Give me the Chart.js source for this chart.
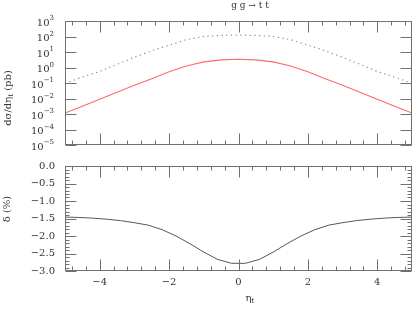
<!DOCTYPE html>
<html>
<head>
<meta charset="utf-8">
<script src="https://cdn.jsdelivr.net/npm/chart.js@4"></script>
<style>
  html, body { margin: 0; padding: 0; background: #fff; }
  #wrap { position: relative; width: 414px; height: 310px; }
  canvas { position: absolute; left: 0; }
  #c1 { top: 0; }
  #c2 { top: 150px; }
</style>
</head>
<body>
<div id="wrap">
  <canvas id="c1" width="414" height="150"></canvas>
  <canvas id="c2" width="414" height="160"></canvas>
</div>
<script>
// top panel: d sigma / d eta_t (pb), log scale
const etaTop = [-5, -4.5, -4, -3.5, -3, -2.5, -2, -1.5, -1, -0.5, 0, 0.5, 1, 1.5, 2, 2.5, 3, 3.5, 4, 4.5, 5];
const sigmaDotted = [0.095, 0.24, 0.56, 1.6, 4.6, 12, 28, 63, 100, 117, 126, 117, 100, 63, 28, 12, 4.6, 1.6, 0.56, 0.24, 0.095];
const sigmaRed = [0.00115, 0.0032, 0.0089, 0.025, 0.071, 0.19, 0.54, 1.26, 2.3, 3.1, 3.4, 3.1, 2.3, 1.26, 0.54, 0.19, 0.071, 0.025, 0.0089, 0.0032, 0.00115];

// bottom panel: delta (%)
const etaBottom = [-5, -4.6, -4.2, -3.8, -3.4, -3, -2.6, -2.2, -1.8, -1.4, -1, -0.6, -0.2,
                   0.2, 0.6, 1, 1.4, 1.8, 2.2, 2.6, 3, 3.4, 3.8, 4.2, 4.6, 5];
const deltaPct = [-1.46, -1.47, -1.49, -1.52, -1.56, -1.62, -1.69, -1.82, -2.0, -2.22, -2.46, -2.67, -2.78,
                  -2.78, -2.67, -2.46, -2.22, -2.0, -1.82, -1.69, -1.62, -1.56, -1.52, -1.49, -1.47, -1.46];

// ticks
const xTicks = [-4, -2, 0, 2, 4];
const logExps = [-5, -4, -3, -2, -1, 0, 1, 2, 3];
const deltaTicks = [0, -0.5, -1, -1.5, -2, -2.5, -3];

const FONT = '"DejaVu Serif", serif';
const axisColor = '#707070';
const textColor = '#333';

function pts(xs, ys) {
  return xs.map((x, i) => ({ x: x, y: ys[i] }));
}

function minus(s) {
  return String(s).replace('-', '\u2212');
}

// draw text pieces with sub/superscripts
function richText(ctx, parts, x, y, size, align) {
  let w = 0;
  const widths = parts.map(p => {
    ctx.font = (p[1] ? size * 0.7 : size) + 'px ' + FONT;
    const m = ctx.measureText(p[0]).width;
    w += m;
    return m;
  });
  let cx = align === 'center' ? x - w / 2 : align === 'right' ? x - w : x;
  ctx.textAlign = 'left';
  ctx.textBaseline = 'middle';
  parts.forEach((p, i) => {
    ctx.font = (p[1] ? size * 0.7 : size) + 'px ' + FONT;
    let dy = 0;
    if (p[1] === 'sub') dy = size * 0.3;
    if (p[1] === 'sup') dy = -size * 0.45;
    ctx.fillText(p[0], cx, y + dy);
    cx += widths[i];
  });
}

// xMinor and yMinor are just decoration steps
function xMarks() {
  const m = xTicks.map(v => [v, 11]);
  for (let k = -12; k <= 12; k++) {
    const v = k * 0.4;
    if (Math.abs(v) < 4.9 && !xTicks.some(t => Math.abs(t - v) < 1e-6)) m.push([v, 4]);
  }
  return m;
}

function makeFrame(yMarks, extra) {
  return {
    id: 'frame',
    afterDatasetsDraw(chart) {
      const { ctx, chartArea: a, scales } = chart;
      ctx.save();
      ctx.strokeStyle = axisColor;
      ctx.lineWidth = 1;
      const L = Math.round(a.left) + 0.5, R = Math.round(a.right) - 0.5;
      const T = Math.round(a.top) + 0.5, B = Math.round(a.bottom) - 0.5;
      ctx.strokeRect(L, T, R - L, B - T);
      ctx.beginPath();
      xMarks().forEach(([v, len]) => {
        const p = Math.round(scales.x.getPixelForValue(v)) + 0.5;
        ctx.moveTo(p, T); ctx.lineTo(p, T + len);
        ctx.moveTo(p, B); ctx.lineTo(p, B - len);
      });
      yMarks.forEach(([v, len]) => {
        const p = Math.round(scales.y.getPixelForValue(v)) + 0.5;
        ctx.moveTo(L, p); ctx.lineTo(L + len, p);
        ctx.moveTo(R, p); ctx.lineTo(R - len, p);
      });
      ctx.stroke();
      ctx.fillStyle = textColor;
      if (extra) extra(chart, ctx);
      ctx.restore();
    }
  };
}

// ---------- top chart ----------
const topYMarks = logExps.map(e => [Number('1e' + e), 11]);

new Chart(document.getElementById('c1'), {
  type: 'line',
  data: {
    datasets: [
      {
        data: pts(etaTop, sigmaDotted),
        borderColor: '#888',
        borderWidth: 1.2,
        borderDash: [1.2, 3.5],
        pointRadius: 0,
        tension: 0
      },
      {
        data: pts(etaTop, sigmaRed),
        borderColor: '#ff6a6a',
        borderWidth: 1.1,
        pointRadius: 0,
        tension: 0
      }
    ]
  },
  options: {
    responsive: false,
    animation: false,
    events: [],
    layout: { padding: { top: 21, right: 2, bottom: 5, left: 0 } },
    plugins: { legend: { display: false }, tooltip: { enabled: false } },
    scales: {
      x: {
        type: 'linear', min: -5, max: 5,
        display: false
      },
      y: {
        type: 'logarithmic', min: 1e-5, max: 1e3,
        grid: { display: false, drawTicks: false },
        border: { display: false },
        ticks: { display: false },
        afterBuildTicks: s => { s.ticks = logExps.map(e => ({ value: Number('1e' + e) })); },
        afterFit: s => { s.width = 65; }
      }
    }
  },
  plugins: [makeFrame(topYMarks, (chart, ctx) => {
    const ys = chart.scales.y;
    ys.ticks.forEach(t => {
      const e = Math.round(Math.log10(t.value));
      const y = ys.getPixelForValue(t.value);
      richText(ctx, [['10'], [minus(e), 'sup']], 54, y + 2, 10, 'right');
    });
    // title
    richText(ctx, [['g g \u2192 t t']], 250, 6, 9, 'center');
    // y title
    ctx.save();
    ctx.translate(8, 98);
    ctx.rotate(-Math.PI / 2);
    richText(ctx, [['d\u03c3/d\u03b7'], ['t', 'sub'], [' (pb)']], 0, 0, 10, 'center');
    ctx.restore();
  })]
});

// ---------- bottom chart ----------
const botYMarks = [];
for (let k = 0; k <= 30; k++) {
  botYMarks.push([-k / 10, k % 5 === 0 ? 11 : 4]);
}

new Chart(document.getElementById('c2'), {
  type: 'line',
  data: {
    datasets: [{
      data: pts(etaBottom, deltaPct),
      borderColor: '#555',
      borderWidth: 1,
      pointRadius: 0,
      tension: 0
    }]
  },
  options: {
    responsive: false,
    animation: false,
    events: [],
    layout: { padding: { top: 6, right: 2, bottom: 0, left: 0 } },
    plugins: { legend: { display: false }, tooltip: { enabled: false } },
    scales: {
      x: {
        type: 'linear', min: -5, max: 5,
        grid: { display: false, drawTicks: false },
        border: { display: false },
        ticks: {
          padding: 5,
          color: textColor,
          font: { family: FONT, size: 10 },
          maxRotation: 0,
          callback: v => minus(v)
        },
        afterBuildTicks: s => { s.ticks = xTicks.map(v => ({ value: v })); },
        afterFit: s => { s.height = 39; }
      },
      y: {
        type: 'linear', min: -3, max: 0,
        grid: { display: false, drawTicks: false },
        border: { display: false },
        ticks: {
          padding: 10,
          color: textColor,
          font: { family: FONT, size: 10 },
          callback: v => minus(Number(v).toFixed(1))
        },
        afterBuildTicks: s => { s.ticks = deltaTicks.map(v => ({ value: v })); },
        afterFit: s => { s.width = 65; }
      }
    }
  },
  plugins: [makeFrame(botYMarks, (chart, ctx) => {
    richText(ctx, [['\u03b7'], ['t', 'sub']], 250, 148, 10, 'center');
    ctx.save();
    ctx.translate(7, 59);
    ctx.rotate(-Math.PI / 2);
    richText(ctx, [['\u03b4 (%)']], 0, 0, 10, 'center');
    ctx.restore();
  })]
});
</script>
</body>
</html>
